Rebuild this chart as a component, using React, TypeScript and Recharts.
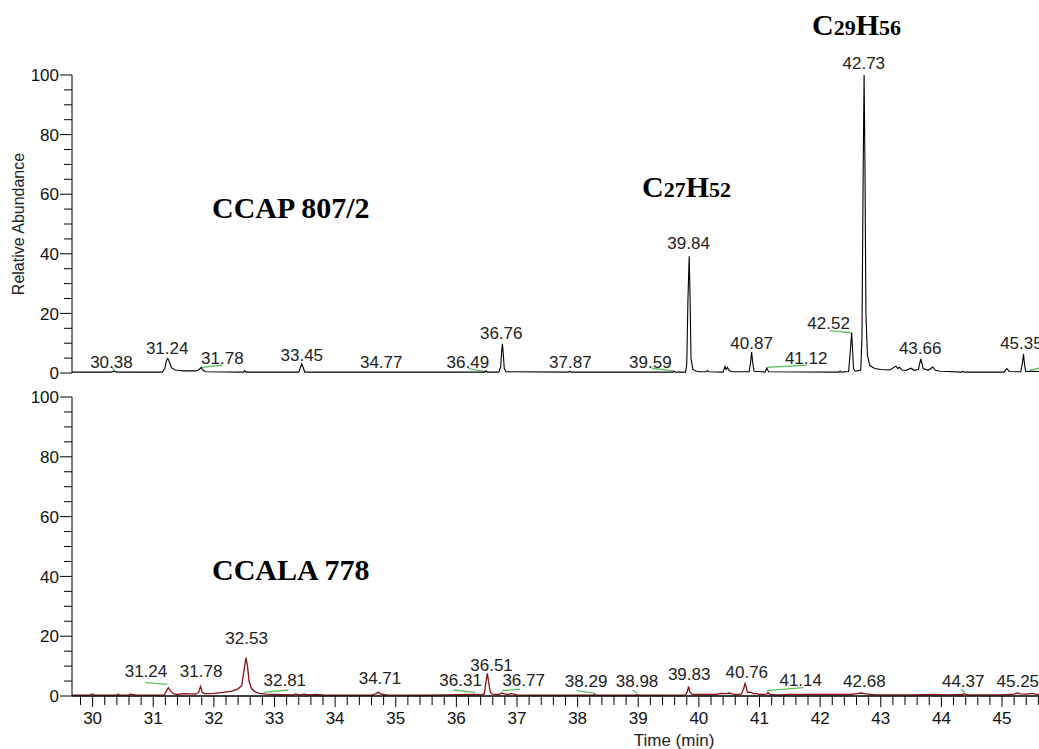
import React from 'react';
import { LineChart, Line, XAxis, YAxis, ReferenceDot, ReferenceLine } from 'recharts';

// retention time (min), relative abundance (%)
const TOP_TRACE: [number, number][] = [
  [29.66, 0.3], [30.3, 0.3], [30.36, 0.6], [30.4, 0.3],
  [31.15, 0.3], [31.19, 1.5], [31.22, 4.2], [31.24, 4.9], [31.27, 3.5], [31.3, 1.8], [31.36, 1.0],
  [31.5, 0.7], [31.7, 0.7], [31.76, 1.2], [31.79, 1.9], [31.82, 1.0], [31.86, 0.4],
  [32.49, 0.3], [32.51, 0.8], [32.53, 0.3],
  [33.4, 0.3], [33.43, 2.0], [33.45, 3.0], [33.47, 2.0], [33.5, 0.3],
  [34.77, 0.3], [36.47, 0.3], [36.49, 0.8], [36.51, 0.3],
  [36.7, 0.3], [36.73, 2.0], [36.75, 8.0], [36.76, 9.8], [36.775, 6.0], [36.79, 1.5], [36.82, 0.4],
  [37.85, 0.3], [37.87, 0.6], [37.89, 0.3],
  [39.57, 0.3], [39.59, 0.6], [39.61, 0.3],
  [39.78, 0.3], [39.8, 3.0], [39.82, 25], [39.84, 39.2], [39.855, 25], [39.87, 5.0], [39.9, 1.2],
  [39.95, 0.7], [40.0, 0.4], [40.12, 0.4], [40.14, 0.8], [40.16, 0.4],
  [40.4, 0.3], [40.43, 2.2], [40.45, 1.2], [40.47, 1.9], [40.5, 0.8], [40.55, 0.4],
  [40.83, 0.4], [40.855, 4.0], [40.87, 7.0], [40.885, 4.0], [40.91, 0.6],
  [41.09, 0.3], [41.12, 1.6], [41.15, 0.4], [42.31, 0.3], [42.33, 0.7], [42.35, 0.3],
  [42.47, 0.5], [42.5, 8.0], [42.52, 13.5], [42.535, 8.0], [42.55, 1.5], [42.58, 0.6], [42.63, 0.8],
  [42.67, 1.0], [42.69, 12], [42.71, 68], [42.725, 100], [42.74, 68], [42.755, 20], [42.78, 6.0],
  [42.82, 2.5], [42.9, 1.5], [43.0, 1.2], [43.15, 1.0], [43.25, 2.3], [43.28, 1.5], [43.31, 1.9],
  [43.35, 1.0], [43.42, 0.9], [43.5, 1.6], [43.55, 0.9], [43.62, 1.2], [43.66, 4.7], [43.7, 1.5],
  [43.78, 0.9], [43.86, 2.0], [43.9, 0.9], [43.98, 0.6], [44.1, 0.5], [44.33, 0.3], [44.35, 0.6],
  [44.37, 0.3], [45.03, 0.3], [45.08, 1.5], [45.12, 0.5], [45.31, 0.4], [45.34, 4.0], [45.355, 6.4],
  [45.37, 3.0], [45.39, 0.5], [45.45, 0.6], [45.61, 0.5],
];

const BOTTOM_TRACE: [number, number][] = [
  [29.66, 0.3], [29.95, 0.3], [30.0, 0.7], [30.03, 0.3], [30.4, 0.3], [30.42, 0.6], [30.45, 0.3],
  [30.6, 0.4], [30.62, 0.6], [30.7, 0.4], [31.0, 0.3], [31.18, 0.4], [31.22, 1.8], [31.25, 2.8],
  [31.28, 1.8], [31.33, 0.8], [31.4, 0.5], [31.5, 0.8], [31.6, 0.7], [31.7, 0.6], [31.75, 1.2],
  [31.78, 3.2], [31.81, 1.2], [31.85, 0.7], [32.0, 0.9], [32.15, 1.2], [32.3, 1.6], [32.4, 2.4],
  [32.46, 3.5], [32.5, 9.0], [32.53, 12.8], [32.555, 10], [32.58, 5.0], [32.62, 2.5], [32.68, 1.4],
  [32.75, 0.9], [32.85, 0.6], [33.0, 0.5], [33.3, 0.4], [33.35, 0.7], [33.4, 0.4], [33.5, 0.6],
  [33.55, 0.4], [33.7, 0.5], [33.8, 0.4], [34.0, 0.3], [34.6, 0.3], [34.68, 0.8], [34.71, 1.3],
  [34.75, 0.7], [34.8, 0.5], [34.85, 0.4], [35.5, 0.3], [35.8, 0.4], [36.3, 0.5], [36.4, 0.4],
  [36.46, 0.7], [36.49, 5.0], [36.51, 7.6], [36.53, 5.0], [36.56, 1.2], [36.6, 0.6], [36.7, 0.5],
  [36.75, 1.0], [36.78, 0.8], [36.85, 0.5], [36.9, 0.8], [36.95, 0.6], [37.0, 0.4], [37.5, 0.3],
  [38.26, 0.3], [38.28, 0.5], [38.3, 0.3], [38.96, 0.3], [38.98, 0.5], [39.0, 0.3], [39.78, 0.4],
  [39.81, 1.5], [39.83, 3.2], [39.85, 1.5], [39.88, 0.6], [39.95, 0.5], [40.3, 0.5], [40.35, 0.9],
  [40.45, 0.8], [40.5, 1.0], [40.55, 0.7], [40.6, 0.5], [40.7, 0.6], [40.74, 2.5], [40.76, 4.1],
  [40.78, 3.0], [40.8, 1.2], [40.85, 1.3], [40.9, 0.8], [40.95, 0.9], [41.0, 0.5], [41.12, 0.6],
  [41.14, 1.2], [41.17, 0.5], [41.3, 0.4], [41.5, 0.5], [42.5, 0.5], [42.6, 0.8], [42.68, 1.0],
  [42.75, 0.7], [42.9, 0.4], [43.5, 0.4], [43.9, 0.5], [44.1, 0.4], [44.35, 0.5], [44.38, 0.8],
  [44.42, 0.4], [45.0, 0.4], [45.2, 0.6], [45.25, 1.0], [45.3, 0.7], [45.4, 0.6], [45.5, 0.9],
  [45.55, 0.6], [45.61, 0.5],
];

// peak label text, label anchor time, label anchor abundance
const TOP_LABELS: [string, number, number][] = [
  ['30.38', 30.31, 3.8], ['31.24', 31.23, 8.3], ['31.78', 32.14, 4.9], ['33.45', 33.45, 6.0],
  ['34.77', 34.76, 3.6], ['36.49', 36.19, 3.8], ['36.76', 36.74, 13.5], ['37.87', 37.88, 3.8],
  ['39.59', 39.2, 3.8], ['39.84', 39.83, 43.5], ['40.87', 40.87, 10.2], ['41.12', 41.77, 4.9],
  ['42.52', 42.14, 16.9], ['42.73', 42.72, 104.1], ['43.66', 43.65, 8.3], ['45.35', 45.32, 10.0],
];

const BOTTOM_LABELS: [string, number, number][] = [
  ['31.24', 30.88, 8.5], ['31.78', 31.79, 8.5], ['32.53', 32.54, 19.5], ['32.81', 33.17, 5.5],
  ['34.71', 34.74, 6.0], ['36.31', 36.07, 5.5], ['36.51', 36.58, 10.5], ['36.77', 37.11, 5.5],
  ['38.29', 38.14, 5.0], ['38.98', 38.98, 5.0], ['39.83', 39.84, 7.5], ['40.76', 40.79, 8.0],
  ['41.14', 41.68, 5.5], ['42.68', 42.73, 5.0], ['44.37', 44.36, 5.0], ['45.25', 45.26, 5.0],
];

// green integration marks: t1, v1, t2, v2
const TOP_MARKS: [number, number, number, number][] = [
  [30.32, 2.0, 30.37, 0.3], [31.79, 1.9, 32.14, 2.6], [36.2, 1.5, 36.5, 0.4],
  [39.22, 1.6, 39.58, 0.7], [41.12, 1.9, 41.78, 2.6], [42.16, 14.2, 42.52, 13.5],
  [45.46, 1.0, 45.61, 1.6],
];

const BOTTOM_MARKS: [number, number, number, number][] = [
  [30.87, 4.5, 31.23, 3.9], [32.82, 1.2, 33.23, 2.0], [35.95, 2.0, 36.31, 1.2],
  [36.75, 1.8, 37.05, 2.3], [37.99, 1.8, 38.29, 0.9], [38.91, 2.0, 38.98, 1.1],
  [41.12, 1.8, 41.72, 2.8], [44.32, 2.2, 44.39, 1.2],
];

const Y_TICKS = [0, 5, 10, 15, 20, 25, 30, 35, 40, 45, 50, 55, 60, 65, 70, 75, 80, 85, 90, 95, 100];
const X_MAJOR = [30, 31, 32, 33, 34, 35, 36, 37, 38, 39, 40, 41, 42, 43, 44, 45];
const X_TICKS = [29.8, ...X_MAJOR.flatMap(m => [m, m + 0.2, m + 0.4, m + 0.6, m + 0.8])]
  .map(v => Math.round(v * 10) / 10)
  .filter(v => v <= 45.6);
const X_DOMAIN: [number, number] = [29.66, 45.61];

const topData = TOP_TRACE.map(([t, v]) => ({ t, v }));
const bottomData = BOTTOM_TRACE.map(([t, v]) => ({ t, v }));

const FONT = '"Liberation Sans", Arial, sans-serif';
const SERIF = '"Liberation Serif", "Times New Roman", serif';
const GREEN = '#5cbf5c';

const YTick = ({ x, y, payload }: any) => {
  const major = payload.value % 20 === 0;
  return (
    <g>
      <line x1={x - (major ? 12 : 8)} x2={x} y1={y} y2={y} stroke="#000" strokeWidth={1} />
      {major && (
        <text x={x - 13} y={y} dy="0.36em" textAnchor="end" fontSize={17} fontFamily={FONT} fill="#111">
          {payload.value}
        </text>
      )}
    </g>
  );
};

const XTick = ({ x, y, payload }: any) => {
  const major = Math.abs(payload.value - Math.round(payload.value)) < 1e-6;
  return (
    <g>
      <line x1={x} x2={x} y1={y} y2={y + (major ? 11 : 9)} stroke="#000" strokeWidth={1} />
      {major && (
        <text x={x} y={y + 22} dy="0.36em" textAnchor="middle" fontSize={17} fontFamily={FONT} fill="#111">
          {payload.value}
        </text>
      )}
    </g>
  );
};

const renderLabels = (labels: [string, number, number][]) =>
  labels.map(([text, t, v]) => (
    <ReferenceDot
      key={text}
      x={t}
      y={v}
      r={0}
      ifOverflow="visible"
      fill="none"
      stroke="none"
      label={{ value: text, position: 'center', fontSize: 17, fontFamily: FONT, fill: '#222' }}
    />
  ));

const renderMarks = (marks: [number, number, number, number][]) =>
  marks.map(([t1, v1, t2, v2], i) => (
    <ReferenceLine
      key={i}
      segment={[{ x: t1, y: v1 }, { x: t2, y: v2 }]}
      stroke={GREEN}
      strokeWidth={1.3}
      ifOverflow="visible"
    />
  ));

export default function App() {
  return (
    <div style={{ position: 'absolute', left: 0, top: 0, width: 1039, height: 749, background: '#fff', overflow: 'hidden' }}>
      <div style={{ position: 'absolute', left: 0, top: 0 }}>
        <LineChart width={1039} height={386} data={topData} margin={{ top: 75, right: 0, bottom: 13, left: 0 }}>
          <XAxis
            dataKey="t"
            type="number"
            domain={X_DOMAIN}
            allowDataOverflow
            height={0}
            tick={false}
            tickLine={false}
            axisLine={{ stroke: '#000', strokeWidth: 1.5 }}
          />
          <YAxis
            type="number"
            domain={[0, 100]}
            ticks={Y_TICKS}
            interval={0}
            width={72}
            tickSize={0}
            tickMargin={0}
            tickLine={false}
            tick={<YTick />}
            axisLine={{ stroke: '#000' }}
            allowDataOverflow
          />
          {renderMarks(TOP_MARKS)}
          <Line dataKey="v" type="linear" dot={false} stroke="#000" strokeWidth={1.1} isAnimationActive={false} />
          {renderLabels(TOP_LABELS)}
        </LineChart>
      </div>
      <div style={{ position: 'absolute', left: 0, top: 386 }}>
        <LineChart width={1039} height={363} data={bottomData} margin={{ top: 11, right: 0, bottom: 0, left: 0 }}>
          <XAxis
            dataKey="t"
            type="number"
            domain={X_DOMAIN}
            allowDataOverflow
            ticks={X_TICKS}
            interval={0}
            height={53}
            tickSize={0}
            tickMargin={0}
            tickLine={false}
            tick={<XTick />}
            axisLine={{ stroke: '#000', strokeWidth: 1.5 }}
          />
          <YAxis
            type="number"
            domain={[0, 100]}
            ticks={Y_TICKS}
            interval={0}
            width={72}
            tickSize={0}
            tickMargin={0}
            tickLine={false}
            tick={<YTick />}
            axisLine={{ stroke: '#000' }}
            allowDataOverflow
          />
          {renderMarks(BOTTOM_MARKS)}
          <Line dataKey="v" type="linear" dot={false} stroke="#8b1010" strokeWidth={1.3} isAnimationActive={false} />
          {renderLabels(BOTTOM_LABELS)}
        </LineChart>
      </div>
      <svg width={1039} height={749} style={{ position: 'absolute', left: 0, top: 0, pointerEvents: 'none' }}>
        <text x={18} y={224} transform="rotate(-90 18 224)" textAnchor="middle" dy="0.36em" fontSize={16} fontFamily={FONT} fill="#222">
          Relative Abundance
        </text>
        <text x={674} y={740} textAnchor="middle" dy="0.36em" fontSize={17} fontFamily={FONT} fill="#222">
          Time (min)
        </text>
        <text x={212} y={218} fontSize={30} fontWeight="bold" fontFamily={SERIF} fill="#000">CCAP 807/2</text>
        <text x={212} y={580} fontSize={30} fontWeight="bold" fontFamily={SERIF} fill="#000">CCALA 778</text>
        <text x={642} y={197} fontSize={30} fontWeight="bold" fontFamily={SERIF} fill="#000">
          C<tspan fontSize={22}>27</tspan>H<tspan fontSize={22}>52</tspan>
        </text>
        <text x={812} y={35} fontSize={30} fontWeight="bold" fontFamily={SERIF} fill="#000">
          C<tspan fontSize={22}>29</tspan>H<tspan fontSize={22}>56</tspan>
        </text>
      </svg>
    </div>
  );
}
